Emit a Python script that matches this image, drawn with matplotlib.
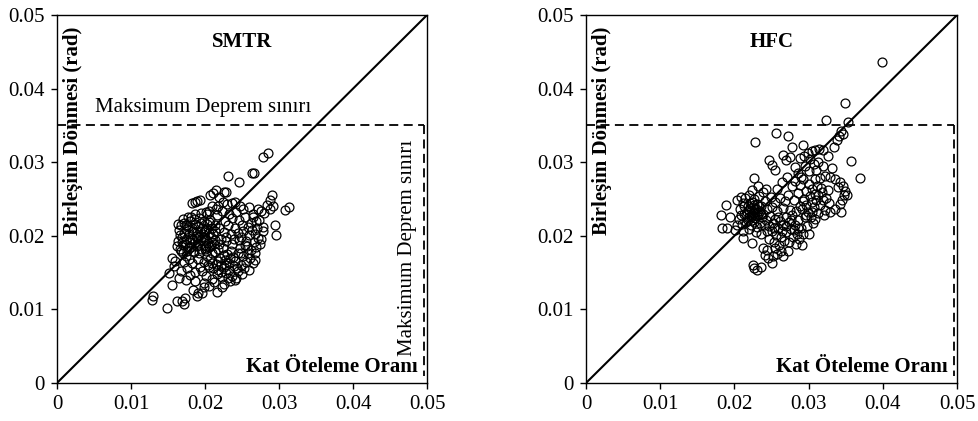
import matplotlib.pyplot as plt
import numpy as np

plt.rcParams['font.family'] = ['Liberation Serif', 'DejaVu Serif']

# story drift ratio vs. connection rotation, values in 1/1000
smtr_pts = [
    (13.0, 11.8), (12.8, 11.3), (14.9, 10.2), (15.1, 14.9), (15.5, 13.3), (15.5, 17.0), (16.2, 11.1),
    (16.9, 11.1), (17.2, 10.8), (17.3, 11.5), (18.4, 12.7), (18.9, 11.8), (19.1, 12.2), (19.6, 12.2),
    (19.9, 13.1), (21.6, 12.4), (22.3, 13.1),
    (18.2, 24.4), (18.6, 24.6), (18.9, 24.7), (19.3, 24.9), (20.2, 23.3), (20.7, 25.5), (21.1, 25.8),
    (21.5, 26.2), (21.9, 25.3), (22.6, 26.0), (22.9, 26.0), (23.1, 28.1), (24.6, 27.3), (26.3, 28.5),
    (26.6, 28.6), (27.9, 30.7), (28.5, 31.2),
    (29.0, 25.5), (28.8, 24.9), (29.2, 24.0), (30.8, 23.5), (31.4, 23.9), (29.5, 21.5), (29.6, 20.1),
    (27.9, 21.2), (26.8, 17.6), (26.8, 16.7), (26.5, 16.3),
    (23.6, 24.4), (24.1, 24.6), (24.7, 24.0), (25.2, 23.7), (27.1, 23.6), (27.6, 23.4), (28.0, 23.1),
    (28.4, 24.2), (28.8, 23.6), (26.5, 22.5), (26.9, 22.0), (27.3, 22.2), (27.8, 20.6), (27.2, 19.7),
    (26.6, 19.1), (27.4, 18.9),
    (16.3, 19.3), (16.5, 20.8), (16.6, 18.2), (16.8, 21.4), (16.9, 19.8), (17.0, 17.6), (17.1, 20.4),
    (17.2, 21.8), (17.3, 18.9), (17.4, 19.5), (17.5, 20.9), (17.6, 18.0), (17.7, 21.2), (17.8, 19.1),
    (17.9, 20.2), (18.0, 22.0), (18.1, 18.5), (18.2, 21.0), (18.3, 19.7), (18.4, 20.6), (18.5, 17.8),
    (18.6, 21.6), (18.7, 19.2), (18.8, 20.0), (18.9, 18.6), (19.0, 21.3), (19.1, 19.9), (19.2, 22.4),
    (19.3, 20.7), (19.4, 18.2), (19.5, 19.4), (19.6, 21.0), (19.7, 20.3), (19.8, 18.8), (19.9, 22.0),
    (20.0, 19.6), (20.1, 20.9), (20.2, 17.9), (20.3, 21.6), (20.4, 19.0), (20.5, 20.4), (20.6, 18.5),
    (20.7, 22.2), (20.8, 19.8), (20.9, 21.0), (21.0, 17.7), (21.1, 20.2), (21.2, 18.9), (21.3, 21.5),
    (21.4, 19.4), (16.4, 21.6), (16.7, 17.9), (17.0, 22.3), (17.5, 17.2), (18.1, 22.6), (18.6, 23.0),
    (19.5, 23.1), (20.6, 23.4), (16.2, 18.6), (17.8, 16.9),
    (16.6, 20.1), (17.0, 18.8), (17.4, 21.5), (17.9, 18.3), (18.2, 19.4), (18.5, 22.3), (18.9, 20.5),
    (19.2, 17.6), (19.4, 21.7), (19.8, 19.9), (20.2, 18.6), (20.5, 21.9), (20.9, 19.2), (21.4, 20.7),
    (21.7, 18.2), (17.7, 22.6), (16.9, 19.1), (19.0, 19.0), (20.0, 20.6), (18.4, 18.0),
    (19.6, 15.2), (19.9, 16.4), (20.1, 14.5), (20.3, 17.3), (20.5, 15.8), (20.7, 16.9), (20.9, 14.1),
    (21.1, 15.6), (21.3, 17.8), (21.5, 16.2), (21.6, 14.8), (21.8, 15.3), (22.0, 17.0), (22.1, 16.0),
    (22.3, 14.4), (22.4, 18.3), (22.6, 15.7), (22.7, 16.7), (22.9, 14.9), (23.0, 17.5), (23.2, 15.4),
    (23.3, 16.3), (23.5, 18.0), (23.6, 14.6), (23.8, 17.1), (23.9, 15.9), (24.1, 16.6), (24.2, 14.3),
    (24.4, 17.7), (24.5, 15.2), (24.7, 18.4), (24.8, 16.1), (25.0, 14.8), (25.1, 17.2), (25.3, 15.6),
    (25.4, 18.7), (25.6, 16.4), (25.8, 17.6), (26.0, 15.4), (26.2, 18.1),
    (20.0, 18.2), (20.8, 18.6), (21.9, 18.9), (22.8, 19.3), (23.7, 18.9), (24.6, 19.4), (21.2, 13.7),
    (22.5, 13.5), (23.4, 13.9), (24.0, 14.0), (19.3, 15.7), (19.0, 16.8), (18.7, 15.1), (18.3, 16.3),
    (18.0, 14.7), (17.6, 15.6), (17.2, 16.4), (16.8, 15.2), (16.5, 14.3), (17.4, 14.0), (18.6, 13.8),
    (19.8, 13.6), (20.6, 13.2), (16.0, 16.6), (15.8, 15.9),
    (21.7, 16.6), (22.2, 15.1), (22.9, 16.0), (23.4, 17.0), (24.3, 15.6), (21.0, 16.3), (23.1, 14.2),
    (24.9, 17.6), (22.5, 17.4), (20.4, 16.0),
    (21.6, 22.8), (21.9, 21.1), (22.1, 19.6), (22.3, 23.4), (22.5, 20.5), (22.7, 22.0), (22.9, 19.9),
    (23.1, 21.4), (23.3, 23.0), (23.5, 20.2), (23.7, 22.4), (23.9, 19.5), (24.0, 21.0), (24.2, 23.2),
    (24.4, 20.4), (24.6, 22.1), (24.8, 19.8), (25.0, 21.5), (25.2, 20.6), (25.4, 22.6), (25.6, 19.3),
    (25.8, 21.2), (26.0, 20.1), (21.8, 24.0), (22.4, 24.6), (23.0, 24.3), (21.5, 23.6), (20.9, 24.1),
    (20.3, 22.9),
    (26.2, 21.8), (26.4, 20.8), (26.7, 20.3), (26.9, 18.5), (26.1, 17.0), (25.7, 18.6), (26.5, 23.0),
    (25.9, 23.9), (27.5, 19.5), (27.0, 21.0),
]

hfc_pts = [
    (39.9, 43.6), (34.9, 38.1), (32.4, 35.8), (35.3, 35.5), (34.3, 34.3), (34.6, 33.9), (34.1, 33.5),
    (33.8, 33.0), (22.8, 32.8), (25.6, 34.0), (27.2, 33.5), (27.7, 32.1), (29.3, 32.3), (35.7, 30.1),
    (36.9, 27.9), (33.4, 32.0), (33.1, 29.2), (26.6, 31.0), (27.0, 30.3), (27.5, 30.7), (24.6, 30.3),
    (25.1, 29.6), (25.5, 28.9),
    (18.2, 22.8), (18.3, 21.0), (18.9, 24.2), (19.0, 21.0), (20.3, 24.9), (19.4, 22.6), (20.1, 20.8),
    (21.2, 19.7), (22.3, 19.0),
    (22.5, 16.0), (22.7, 15.6), (23.0, 15.4), (23.6, 15.8), (25.1, 16.3), (24.1, 17.4), (24.5, 17.0),
    (25.2, 17.2), (25.8, 17.5), (26.3, 18.0), (23.9, 18.4), (24.4, 18.1),
    (30.9, 27.7), (31.5, 27.9), (32.2, 28.1), (32.9, 28.0), (33.6, 27.7), (34.2, 27.3), (34.6, 26.8),
    (34.9, 26.1), (34.8, 25.5), (34.5, 24.9), (34.2, 24.3), (33.6, 23.7), (32.9, 23.3), (32.2, 23.5),
    (34.4, 23.2), (35.1, 25.6), (33.9, 26.6), (32.6, 26.2), (31.8, 25.9),
    (28.9, 30.6), (29.4, 30.9), (29.9, 31.2), (30.4, 31.5), (30.9, 31.7), (31.4, 31.8), (31.9, 31.6),
    (30.2, 30.4), (30.7, 29.8), (31.3, 30.0), (29.5, 29.5), (28.6, 28.6), (29.0, 28.0), (30.0, 28.8),
    (31.0, 28.9), (32.0, 29.5), (32.6, 30.9), (28.2, 29.4),
    (20.6, 22.3), (20.8, 23.6), (21.0, 21.6), (21.1, 24.5), (21.3, 22.9), (21.4, 25.2), (21.6, 21.9),
    (21.7, 23.3), (21.8, 24.1), (21.9, 22.5), (22.0, 25.6), (22.1, 23.8), (22.2, 21.4), (22.3, 22.8),
    (22.4, 24.6), (22.5, 23.1), (22.6, 21.9), (22.7, 25.0), (22.8, 22.4), (22.9, 23.6), (23.0, 24.3),
    (23.1, 21.2), (23.2, 22.9), (23.3, 25.4), (23.4, 23.4), (23.5, 21.8), (23.6, 24.0), (23.7, 22.6),
    (23.8, 25.9), (23.9, 23.0), (24.0, 21.5), (24.1, 24.7), (24.2, 22.2), (24.3, 26.4), (24.4, 23.7),
    (20.4, 21.4), (21.2, 20.7), (22.0, 20.9), (22.9, 20.5), (23.6, 20.3), (24.4, 20.7), (20.9, 25.3),
    (22.4, 26.2), (23.2, 26.8), (22.6, 27.8),
    (21.5, 23.0), (21.8, 22.2), (22.1, 24.4), (22.4, 22.1), (22.7, 23.7), (23.0, 22.7), (23.3, 24.0),
    (21.9, 23.5), (22.6, 24.2), (23.1, 23.2), (21.3, 24.0), (22.2, 22.6), (20.9, 22.8), (23.6, 22.9),
    (24.6, 21.3), (24.7, 19.6), (24.8, 22.7), (24.9, 25.3), (25.0, 20.6), (25.1, 23.9), (25.2, 21.8),
    (25.3, 19.2), (25.4, 24.6), (25.5, 22.3), (25.6, 20.1), (25.7, 26.4), (25.8, 23.4), (25.9, 21.1),
    (26.0, 18.7), (26.1, 25.1), (26.2, 22.0), (26.3, 19.8), (26.4, 27.3), (26.5, 23.8), (26.6, 21.5),
    (26.7, 19.3), (26.8, 24.7), (26.9, 22.6), (27.0, 20.5), (27.1, 28.0), (27.2, 25.6), (27.3, 21.9),
    (27.4, 19.1), (27.5, 23.5), (27.6, 20.9), (27.7, 26.8), (27.8, 22.8), (27.9, 19.8), (28.0, 24.9),
    (28.1, 21.4), (28.2, 27.4), (28.3, 23.4), (28.4, 20.3), (28.5, 25.8), (28.6, 22.2), (28.7, 19.6),
    (28.8, 24.1), (28.9, 26.9), (29.0, 21.1), (29.1, 23.6), (29.2, 20.3), (29.3, 27.7), (29.4, 25.0),
    (29.5, 22.5), (29.6, 24.2), (29.7, 26.1), (29.8, 21.3), (29.9, 23.3), (30.0, 20.2), (30.1, 27.0),
    (30.2, 25.4), (30.3, 22.6), (30.4, 24.6), (30.5, 26.3), (30.6, 21.7), (30.7, 23.9), (30.8, 25.7),
    (30.9, 22.3), (31.0, 24.9), (31.1, 26.8), (31.2, 23.1), (31.3, 25.6), (31.5, 24.2), (31.7, 26.5),
    (31.9, 24.9), (32.1, 22.8), (32.4, 25.1), (32.7, 24.4), (29.1, 18.8), (28.3, 18.9), (27.2, 17.9),
    (26.6, 17.3), (25.4, 18.3),
    (25.3, 21.0), (25.9, 22.6), (26.4, 20.7), (27.0, 21.3), (27.6, 22.1), (28.0, 20.8), (28.6, 21.0),
    (29.2, 24.7), (29.7, 22.8), (30.4, 23.3),
]

titles = ['SMTR', 'HFC']
limit = 0.035
ticks = [0, 0.01, 0.02, 0.03, 0.04, 0.05]
tick_labels = ['0', '0.01', '0.02', '0.03', '0.04', '0.05']

fig = plt.figure(figsize=(9.79, 4.21), dpi=100)
ax1 = fig.add_axes([0.0582, 0.0903, 0.378, 0.874])
ax2 = fig.add_axes([0.5986, 0.0903, 0.379, 0.874])

for ax, pts, title in zip([ax1, ax2], [smtr_pts, hfc_pts], titles):
    p = np.array(pts) / 1000.0
    ax.plot([0, 0.05], [0, 0.05], color='black', lw=1.5)
    ax.plot(p[:, 0], p[:, 1], 'o', mfc='none', mec='black', ms=6.4, mew=0.9)
    # deprem limit lines
    ax.plot([0, 0.0496], [limit, limit], color='black', lw=1.3, ls=(0, (5, 3)))
    ax.plot([0.0496, 0.0496], [limit, 0.001], color='black', lw=1.3, ls=(0, (5, 3)))
    ax.set_xlim(0, 0.05)
    ax.set_ylim(0, 0.05)
    ax.set_xticks(ticks)
    ax.set_xticklabels(tick_labels)
    ax.set_yticks(ticks)
    ax.set_yticklabels(tick_labels)
    ax.tick_params(direction='out', length=4, width=1, labelsize=15, pad=5)
    for s in ax.spines.values():
        s.set_linewidth(1.0)
    ax.text(0.025, 0.0463, title, ha='center', va='center', fontsize=15, fontweight='bold')
    ax.text(0.0022, 0.0201, 'Birleşim Dönmesi (rad)', rotation=90, ha='center', va='bottom',
            fontsize=15, fontweight='bold')
    ax.text(0.0488, 0.0008, 'Kat Öteleme Oranı', ha='right', va='bottom',
            fontsize=15, fontweight='bold')

ax1.text(0.0051, 0.0362, 'Maksimum Deprem sınırı', ha='left', va='bottom', fontsize=15)
ax1.text(0.0473, 0.0036, 'Maksimum Deprem sınırı', rotation=90, ha='center', va='bottom', fontsize=15)

fig.savefig('out.png', dpi=100)
